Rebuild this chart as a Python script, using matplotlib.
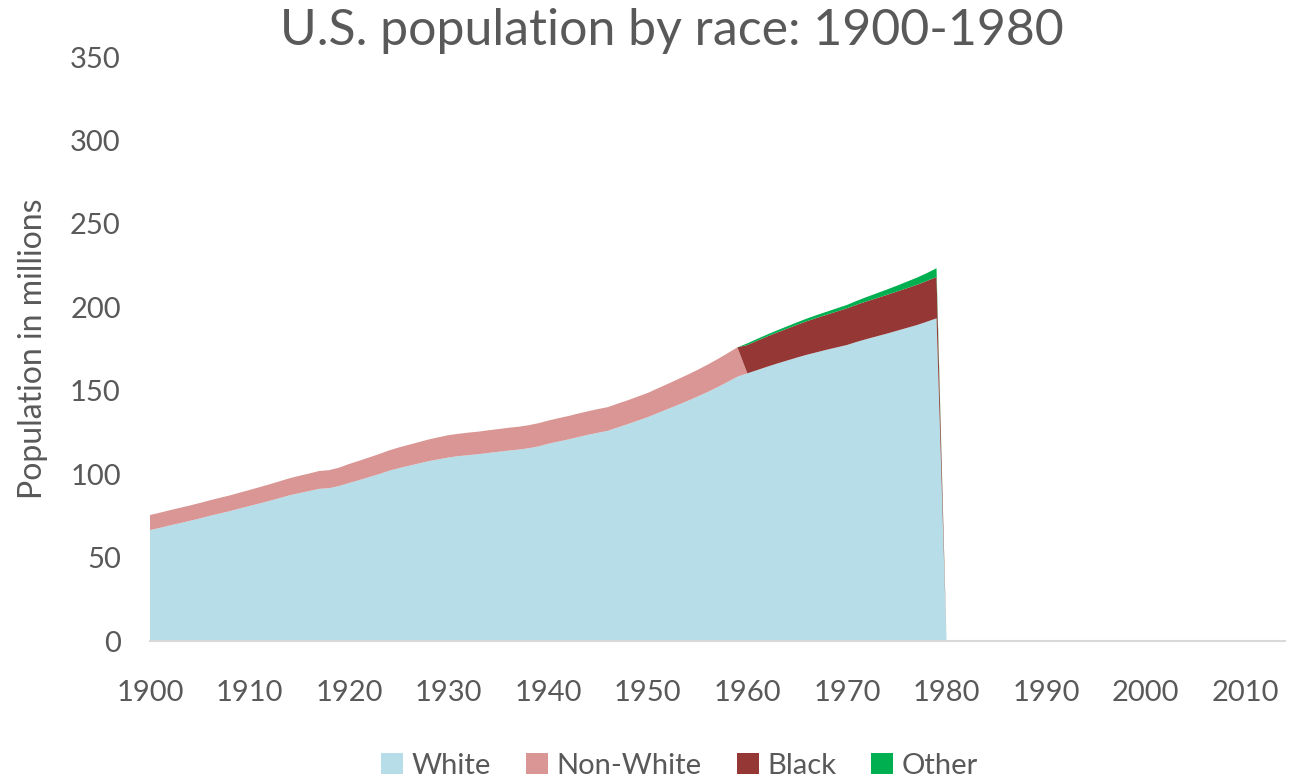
import matplotlib
matplotlib.use("Agg")
import matplotlib.pyplot as plt
from matplotlib.patches import Patch
import numpy as np

plt.rcParams['font.family'] = ['Lato', 'DejaVu Sans']

years = list(range(1900, 2015))

white_1900_1979 = [
    66.5, 67.8, 69.3, 70.6, 72.0, 73.4, 75.0, 76.4, 77.8, 79.4,
    80.9, 82.4, 84.0, 85.6, 87.3, 88.6, 89.9, 91.2, 91.6, 92.9,
    94.7, 96.4, 98.2, 100.0, 102.0, 103.6, 105.0, 106.4, 107.8, 108.9,
    110.0, 110.8, 111.4, 112.0, 112.7, 113.4, 114.1, 114.7, 115.5, 116.6,
    118.2, 119.5, 120.8, 122.2, 123.6, 124.8, 126.0, 128.0, 130.0, 132.1,
    134.2, 136.6, 139.0, 141.4, 143.9, 146.5, 149.2, 152.1, 155.2, 158.4,
    160.4, 162.4, 164.4, 166.3, 168.1, 169.9, 171.6, 173.1, 174.6, 176.0,
    177.4, 179.3, 181.0, 182.6, 184.2, 185.9, 187.6, 189.3, 191.3, 193.4,
]
nonwhite_1900_1979 = [
    9.0, 9.1, 9.1, 9.2, 9.2, 9.3, 9.3, 9.4, 9.4, 9.5,
    9.6, 9.8, 9.9, 10.1, 10.2, 10.4, 10.5, 10.7, 10.8, 11.0,
    11.4, 11.6, 11.8, 12.0, 12.2, 12.4, 12.6, 12.8, 13.0, 13.2,
    13.4, 13.4, 13.5, 13.5, 13.6, 13.6, 13.7, 13.7, 13.8, 13.9,
    13.9, 14.0, 14.0, 14.1, 14.1, 14.2, 14.2, 14.3, 14.3, 14.4,
    14.5, 14.8, 15.1, 15.4, 15.7, 16.0, 16.4, 16.8, 17.2, 17.6,
    0, 0, 0, 0, 0, 0, 0, 0, 0, 0,
    0, 0, 0, 0, 0, 0, 0, 0, 0, 0,
]
black_1900_1979 = [0] * 60 + [
    17.0, 17.6, 18.1, 18.6, 19.1, 19.6, 20.1, 20.6, 21.0, 21.5,
    22.0, 22.3, 22.6, 22.9, 23.2, 23.5, 23.8, 24.1, 24.4, 24.8,
]
other_1900_1979 = [0] * 60 + [
    1.0, 1.1, 1.2, 1.3, 1.4, 1.5, 1.6, 1.7, 1.8, 1.9,
    2.0, 2.3, 2.6, 2.9, 3.2, 3.5, 3.9, 4.3, 4.7, 5.2,
]
after_1979 = [0] * (2014 - 1979)

white = white_1900_1979 + after_1979
nonwhite = nonwhite_1900_1979 + after_1979
black = black_1900_1979 + after_1979
other = other_1900_1979 + after_1979

series_names = ["White", "Non-White", "Black", "Other"]
colors = ["#B7DDE8", "#D99694", "#953735", "#00B050"]

title = "U.S. population by race: 1900-1980"
ylabel = "Population in millions"
yticks = [0, 50, 100, 150, 200, 250, 300, 350]
xticks = list(range(1900, 2011, 10))

fig = plt.figure(figsize=(12.92, 7.8), dpi=100)
ax = fig.add_axes([150 / 1292, 1 - 641 / 780, (1285 - 150) / 1292, (641 - 57) / 780])

ax.stackplot(years, white, nonwhite, black, other, colors=colors, linewidth=0)

ax.set_xlim(1900, 2014)
ax.set_ylim(0, 350)
ax.set_yticks(yticks)
ax.set_xticks(xticks)
ax.tick_params(axis='both', length=0, labelsize=21, colors='#595959')
ax.tick_params(axis='y', pad=21)
ax.tick_params(axis='x', pad=28)
for s in ['top', 'right', 'left']:
    ax.spines[s].set_visible(False)
ax.spines['bottom'].set_color('#D9D9D9')
ax.spines['bottom'].set_linewidth(1.5)

ax.set_ylabel(ylabel, fontsize=23, color='#595959', labelpad=16)
fig.text(0.52, 0.96, title, ha='center', va='center', fontsize=36, color='#595959')

handles = [Patch(facecolor=c, edgecolor='none') for c in colors]
fig.legend(handles, series_names, loc='center', bbox_to_anchor=(0.526, 0.018),
           ncol=4, frameon=False, fontsize=21, handlelength=0.75, handleheight=0.75,
           handletextpad=0.3, columnspacing=1.2, labelcolor='#595959')

fig.savefig("out.png", dpi=100)
